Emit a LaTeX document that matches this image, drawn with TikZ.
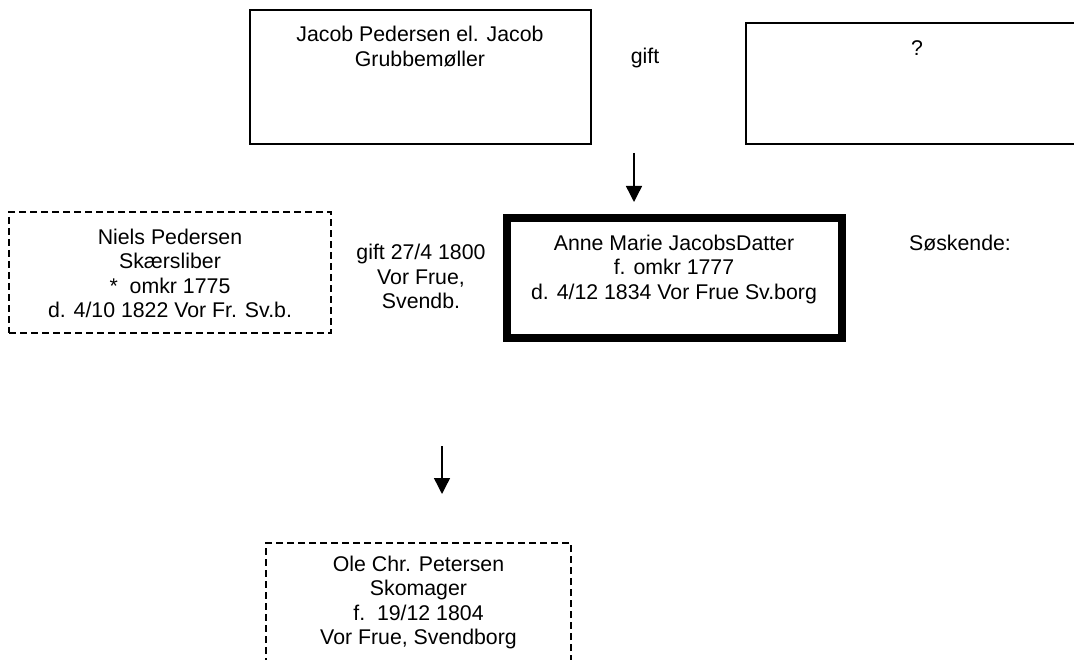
\documentclass[tikz,border=0pt]{standalone}
\usepackage{fontspec}
\setmainfont{Liberation Sans}
\usetikzlibrary{arrows.meta}
\begin{document}
\begin{tikzpicture}[x=1pt,y=-1pt,
  box/.style={draw=black,rectangle,inner sep=0pt,outer sep=0pt,line width=1.3pt},
  thickbox/.style={box,line width=8pt},
  dashbox/.style={box,dash pattern=on 7pt off 4pt},
  txt/.style={align=center,inner sep=0pt,font=\fontsize{21.3}{24.5}\selectfont},
  arr/.style={line width=1.4pt,-{Triangle[width=16pt,length=16pt]}}]
\useasboundingbox (0,0) rectangle (1074,660);
\clip (0,0) rectangle (1074,660);
% boxes
\node[box,minimum width=341pt,minimum height=134pt] (jacob) at (420.5,77) {};
\node[box,minimum width=342pt,minimum height=121pt] (unknown) at (917,83.5) {};
\node[thickbox,minimum width=335.5pt,minimum height=119.7pt] (anne) at (674.25,278.15) {};
\node[dashbox,minimum width=322pt,minimum height=121pt] (niels) at (170,272.5) {};
\node[dashbox,minimum width=305pt,minimum height=122pt] (ole) at (418.5,604) {};
% texts
\node[txt] (jacobtxt) at (420,46.5) {Jacob Pedersen el. Jacob\\Grubbemøller};
\node[txt] (gift1) at (645,58) {gift};
\node[txt] (unktxt) at (917,48) {?};
\node[txt] (annetxt) at (674,269) {Anne Marie JacobsDatter\\f. omkr 1777\\d. 4/12 1834 Vor Frue Sv.borg};
\node[txt] (nielstxt) at (170,273.5) {Niels Pedersen\\Skærsliber\\*\ \ omkr 1775\\d. 4/10 1822 Vor Fr. Sv.b.};
\node[txt] (gift2) at (421,276.5) {gift 27/4 1800\\Vor Frue,\\Svendb.};
\node[txt] (soskende) at (960,243) {Søskende:};
\node[txt] (oletxt) at (418.5,602.5) {Ole Chr. Petersen\\Skomager\\f.\ \ 19/12 1804\\Vor Frue, Svendborg};
% arrows
\coordinate (a1s) at (634,153);
\coordinate (a1e) at (634,202);
\coordinate (a2s) at (442,446);
\coordinate (a2e) at (442,494);
\draw[arr] (a1s) -- (a1e);
\draw[arr] (a2s) -- (a2e);
\end{tikzpicture}
\end{document}
